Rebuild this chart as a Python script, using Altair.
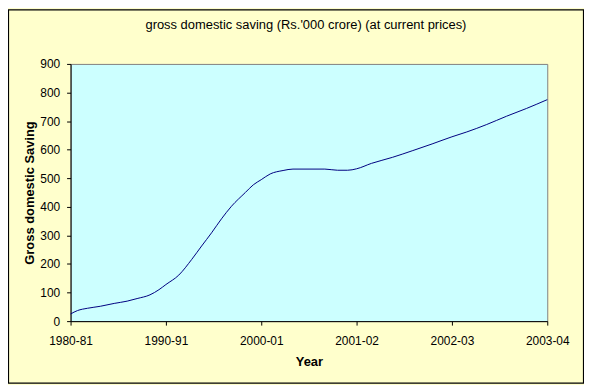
import altair as alt
import pandas as pd

# Category labels on the x axis
year_labels = ["1980-81", "1990-91", "2000-01", "2001-02", "2002-03", "2003-04"]

# Points (x as fractional category index)
x_index = [0.0, 0.073, 0.177, 0.3125, 0.458, 0.594, 0.698, 0.833, 0.927, 1.0,
           1.135, 1.271, 1.375, 1.479, 1.583, 1.688, 1.833, 1.917, 2.0,
           2.094, 2.229, 2.333, 2.667, 2.8, 2.906, 3.0,
           3.156, 3.375, 3.583, 3.792, 4.0,
           4.156, 4.365, 4.573, 4.781, 5.0]
saving = [25, 37, 45, 52, 62, 70, 79, 92, 110, 128,
          161, 216, 263, 309, 358, 402, 450, 477, 495,
          515, 527, 532, 532, 528, 528, 533,
          552, 573, 596, 620, 645,
          662, 688, 717, 744, 775]

df = pd.DataFrame({"x": x_index, "saving": saving})

label_js = "[" + ",".join("'" + s + "'" for s in year_labels) + "][datum.value]"

line = alt.Chart(df).mark_line(
    color="#000080", strokeWidth=1, interpolate="monotone"
).encode(
    x=alt.X("x:Q",
            scale=alt.Scale(domain=[0, 5], nice=False, zero=False),
            axis=alt.Axis(values=list(range(len(year_labels))), labelExpr=label_js,
                          title="Year", grid=False, tickSize=4, labelPadding=11,
                          labelFlush=False, labelBound=False, titlePadding=9)),
    y=alt.Y("saving:Q",
            scale=alt.Scale(domain=[0, 900], nice=False),
            axis=alt.Axis(values=list(range(0, 901, 100)), title="Gross domestic Saving",
                          grid=False, tickSize=4, labelPadding=7, titlePadding=3)),
)

frame = alt.Chart(pd.DataFrame({"a": [0]})).mark_rect(
    filled=False, stroke="black", strokeWidth=1.2
).encode(
    x=alt.value(-62.5), x2=alt.value(516.5),
    y=alt.value(-54.5), y2=alt.value(321.5),
)

chart = alt.layer(line, frame).properties(
    width=480, height=259,
    background="#FFFFCC",
    autosize=alt.AutoSizeParams(type="none"),
    padding={"left": 63, "top": 55, "right": 37, "bottom": 63},
    title=alt.TitleParams(
        "gross domestic saving (Rs.'000 crore) (at current prices)",
        fontSize=13, fontWeight="normal", font="Liberation Sans", color="black",
        anchor="middle", offset=-23, dx=-3,
    ),
).configure_view(
    fill="#CCFFFF", stroke="#808080", strokeWidth=1
).configure_axis(
    domainColor="black", tickColor="black", labelColor="black", titleColor="black",
    labelFont="Liberation Sans", titleFont="Liberation Sans",
    labelFontSize=12, titleFontSize=13, titleFontWeight="bold",
)

chart.save("out.html", embed_options={"renderer": "svg", "actions": False})
